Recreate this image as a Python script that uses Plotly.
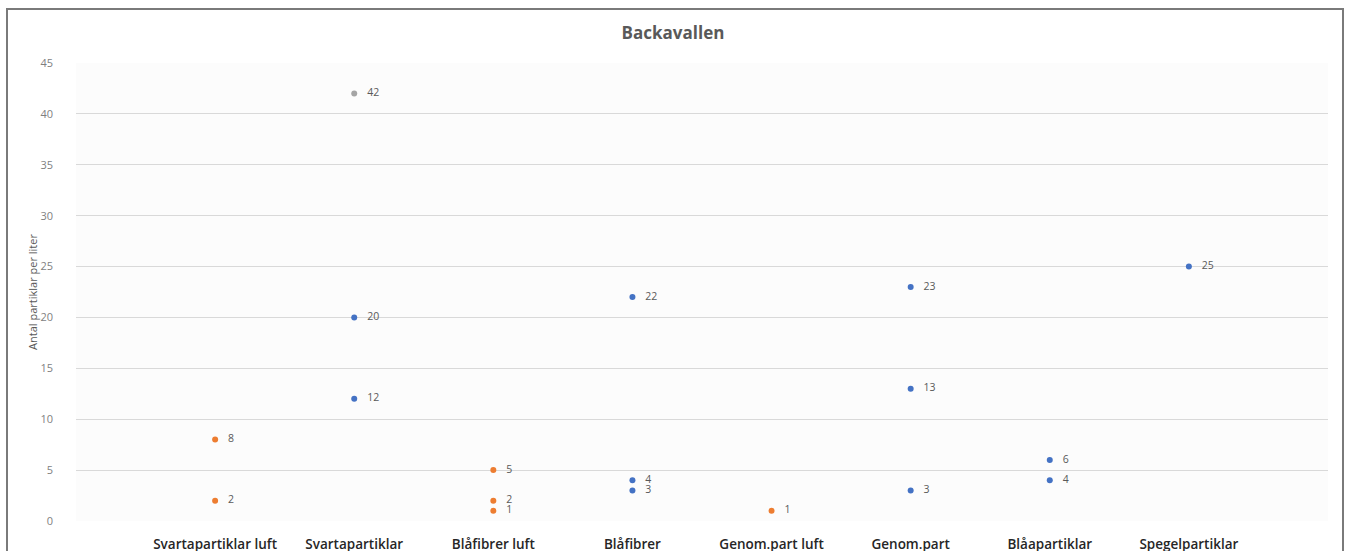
import plotly.graph_objects as go

categories = ["Svartapartiklar luft", "Svartapartiklar", "Blåfibrer luft", "Blåfibrer",
              "Genom.part luft", "Genom.part", "Blåapartiklar", "Spegelpartiklar"]

# orange series (air samples)
orange_cat = ["Svartapartiklar luft", "Svartapartiklar luft", "Blåfibrer luft", "Blåfibrer luft",
              "Blåfibrer luft", "Genom.part luft"]
orange_val = [8, 2, 5, 2, 1, 1]

# blue series
blue_cat = ["Svartapartiklar", "Svartapartiklar", "Blåfibrer", "Blåfibrer", "Blåfibrer",
            "Genom.part", "Genom.part", "Genom.part", "Blåapartiklar", "Blåapartiklar",
            "Spegelpartiklar"]
blue_val = [20, 12, 22, 4, 3, 23, 13, 3, 6, 4, 25]

# gray series
gray_cat = ["Svartapartiklar"]
gray_val = [42]

y_ticks = [0, 5, 10, 15, 20, 25, 30, 35, 40, 45]

pos = {c: i + 1 for i, c in enumerate(categories)}

fig = go.Figure()
for cats, vals, color in [(orange_cat, orange_val, "#ED7D31"),
                          (blue_cat, blue_val, "#4472C4"),
                          (gray_cat, gray_val, "#A5A5A5")]:
    fig.add_trace(go.Scatter(
        x=[pos[c] for c in cats], y=vals, mode="markers+text",
        marker=dict(color=color, size=6),
        text=["   " + str(v) for v in vals], textposition="middle right",
        textfont=dict(family="Open Sans, sans-serif", size=10.5, color="#595959"),
        cliponaxis=False, showlegend=False,
    ))

fig.update_layout(
    width=1346, height=551,
    margin=dict(l=76, r=18, t=63, b=30),
    paper_bgcolor="white", plot_bgcolor="#fcfcfc",
    title=dict(text="<b>Backavallen</b>", x=0.5, xanchor="center", y=0.94, yanchor="middle",
               font=dict(family="Open Sans, sans-serif", size=17, color="#595959")),
    xaxis=dict(range=[0, 9], tickvals=list(range(1, len(categories) + 1)), ticktext=categories,
               showgrid=False, zeroline=False, showline=False, ticks="", automargin=False,
               tickfont=dict(family="Open Sans, sans-serif", size=13.5, color="#262626", weight=600),
               ticklabelstandoff=13),
    yaxis=dict(range=[0, 45], tickvals=y_ticks, showgrid=True, gridcolor="#d9d9d9", gridwidth=1,
               zeroline=False, showline=False, ticks="", automargin=False,
               tickfont=dict(family="Open Sans, sans-serif", size=11, color="#7f7f7f"),
               ticklabelstandoff=22,
               title=dict(text="Antal partiklar per liter", standoff=0,
                          font=dict(family="Open Sans, sans-serif", size=11, color="#595959"))),
    font=dict(family="Open Sans, sans-serif"),
)

# outer chart border
fig.add_shape(type="rect", xref="paper", yref="paper",
              x0=(7 - 76) / 1252, x1=(1343 - 76) / 1252,
              y0=(521 - 570) / 458, y1=(521 - 9) / 458,
              line=dict(color="#7a7a7a", width=2), fillcolor="rgba(0,0,0,0)", layer="above")

fig.write_html("out.html")
